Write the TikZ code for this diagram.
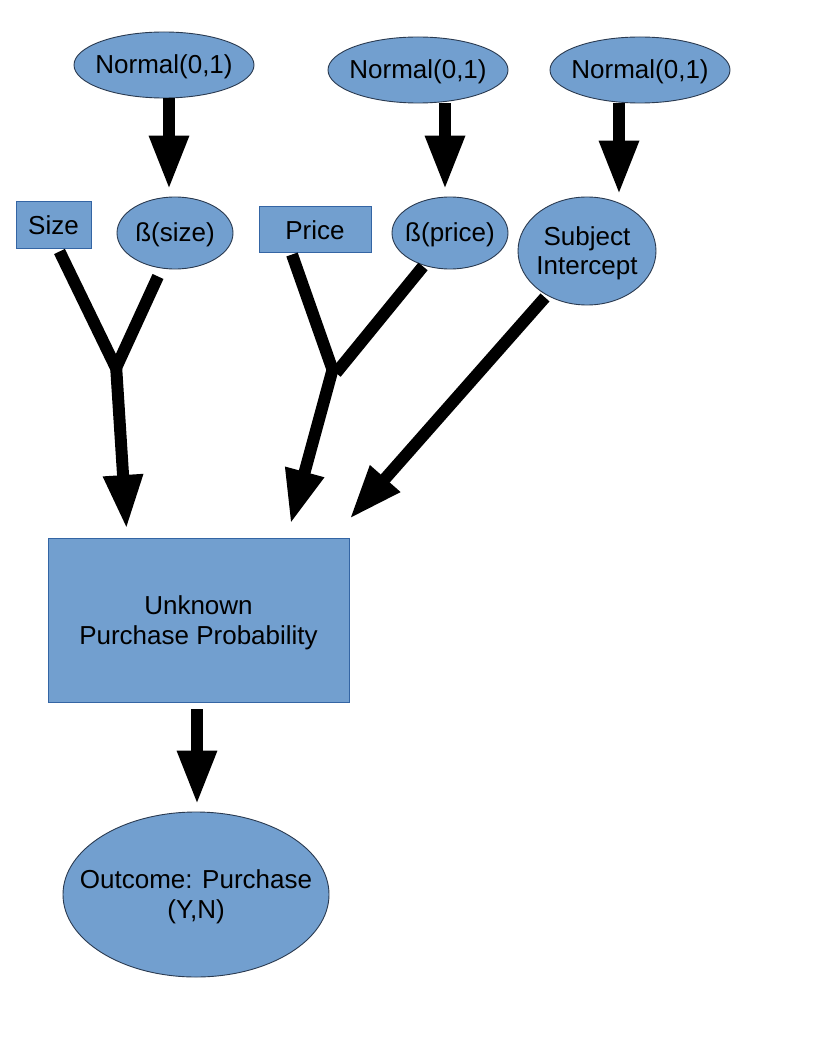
\documentclass[tikz,border=0pt]{standalone}
\usepackage{fontspec}
\setmainfont{Liberation Sans}
\usetikzlibrary{shapes.geometric,arrows.meta,calc}
\definecolor{boxfill}{HTML}{729FCF}
\definecolor{boxline}{HTML}{3465A4}
\definecolor{ellline}{HTML}{2A3A50}
\newcommand\zwtext[1]{\raisebox{-3pt}[\height][\depth]{\makebox[0pt]{\begin{tabular}{@{}c@{}}#1\end{tabular}}}}
\begin{document}
\begin{tikzpicture}[x=1pt,y=-1pt,
  txt/.style={font=\fontsize{26}{30}\selectfont, text=black, align=center, inner sep=0pt},
  ell/.style={txt, ellipse, fill=boxfill, draw=ellline, line width=0.9pt},
  boxnode/.style={txt, rectangle, fill=boxfill, draw=boxline, line width=1pt},
  thick line/.style={line width=12pt, line cap=butt},
  bigarrow/.style={line width=12pt, -{Triangle[width=37pt,length=54pt]}}
]
\useasboundingbox (0,0) rectangle (816,1056);
\fill[white] (0,0) rectangle (816,1056);

% nodes
\node[ell, minimum width=180, minimum height=66] (n1) at (164,65) {\zwtext{Normal(0,1)}};
\node[ell, minimum width=180, minimum height=66] (n2) at (418,70) {\zwtext{Normal(0,1)}};
\node[ell, minimum width=180, minimum height=66] (n3) at (640,70) {\zwtext{Normal(0,1)}};
\node[boxnode, minimum width=75, minimum height=47] (size) at (53.5,225.5) {Size};
\node[ell, minimum width=116, minimum height=72] (bsize) at (175,233) {\zwtext{ß(size)}};
\node[boxnode, minimum width=112, minimum height=46] (price) at (315,230) {Price};
\node[ell, minimum width=116, minimum height=72] (bprice) at (450,233) {\zwtext{ß(price)}};
\node[ell, minimum width=138, minimum height=108, font=\fontsize{26}{29}\selectfont] (si) at (587,251) {\zwtext{Subject\\Intercept}};
\node[boxnode, minimum width=301, minimum height=164] (upp) at (198.5,620.5) {\zwtext{Unknown\\Purchase Probability}};
\node[ell, minimum width=266, minimum height=165] (out) at (196,894.5) {\zwtext{Outcome: Purchase\\(Y,N)}};

% junction points
\coordinate (j1) at (116,368);
\coordinate (j2) at (333,371);

% prior arrows
\draw[bigarrow] ($(n1.south)+(5,0)$) -- ($(bsize.north)+(-6,-7)$);
\draw[bigarrow] ($(n2.south)+(27,0)$) -- ($(bprice.north)+(-5,-7)$);
\draw[bigarrow] ($(n3.south)+(-21,0)$) -- ($(si.north)+(32,-2)$);

% size branch
\draw[thick line] ($(size.south)+(6,2)$) -- (j1);
\draw[thick line] ($(bsize.south)+(-17,7)$) -- (j1);
\draw[bigarrow] ($(j1)+(0,-3)$) -- ($(upp.north west)+(79,-9)$);

% price branch
\draw[thick line] ($(price.south)+(-23,1)$) -- (j2);
\draw[thick line] ($(bprice.south)+(-27,-3)$) -- ($(j2)+(3,2)$);
\draw[bigarrow] ($(j2)+(0,-3)$) -- ($(upp.north west)+(243,-14)$);

% subject intercept
\draw[bigarrow] ($(si.south)+(-42,-8)$) -- ($(upp.north west)+(302,-19)$);

% to outcome
\draw[bigarrow] ($(upp.south)+(-1.5,6)$) -- ($(out.north)+(1,-7)$);
\end{tikzpicture}
\end{document}
